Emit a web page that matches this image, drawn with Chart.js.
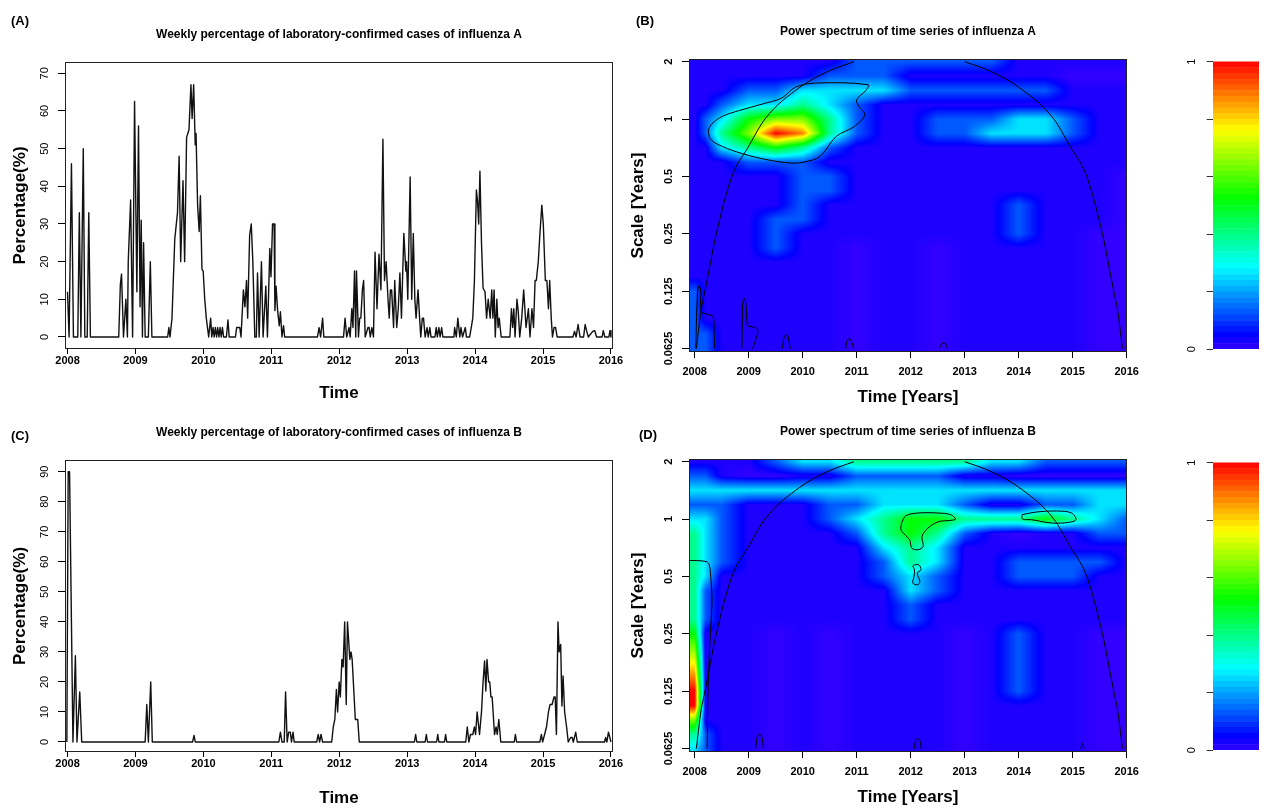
<!DOCTYPE html>
<html>
<head>
<meta charset="utf-8">
<title>Influenza A / B weekly percentage and wavelet power</title>
<script src="https://cdn.jsdelivr.net/npm/chart.js@4.4.1/dist/chart.umd.min.js"></script>
<style>
  body { margin: 0; background: #fff; }
  #page { position: relative; width: 1264px; height: 808px; overflow: hidden; background: #fff; }
  #page canvas { position: absolute; }
</style>
</head>
<body>
<div id="page">
  <canvas id="chartA" width="632" height="410" style="left:0px;top:0px"></canvas>
  <canvas id="chartC" width="632" height="412" style="left:0px;top:398px"></canvas>
  <canvas id="chartB" width="540" height="420" style="left:620px;top:0px"></canvas>
  <canvas id="chartD" width="540" height="420" style="left:620px;top:400px"></canvas>
  <canvas id="barB" width="104" height="404" style="left:1160px;top:0px"></canvas>
  <canvas id="barD" width="104" height="404" style="left:1160px;top:401px"></canvas>
</div>
<script>
Chart.defaults.font.family = '"Liberation Sans", Arial, Helvetica, sans-serif';
Chart.defaults.color = '#000';
var FONT = Chart.defaults.font.family;

// ---------- data ----------
var yearTicks = [2008, 2009, 2010, 2011, 2012, 2013, 2014, 2015, 2016];
var pctTicksA = [0, 10, 20, 30, 40, 50, 60, 70];
var pctTicksB = [0, 10, 20, 30, 40, 50, 60, 70, 80, 90];
var periodTicks = [0.0625, 0.125, 0.25, 0.5, 1, 2];
var colorTicks = [0, 0.2, 0.4, 0.6, 0.8, 1];

// weekly % influenza A  (time = years after 1 Jan 2008)
var fluATime = [
  0, 0.023, 0.058, 0.087, 0.151, 0.174, 0.197, 0.232, 0.255, 0.29, 0.313, 0.337,
  0.754, 0.778, 0.795, 0.824, 0.859, 0.882, 0.894, 0.929, 0.958, 0.987, 1.021, 1.045, 1.068, 1.085, 1.103, 1.12, 1.143, 1.19, 1.219, 1.242,
  1.474, 1.492, 1.509, 1.538, 1.579, 1.619, 1.643, 1.666, 1.7, 1.724, 1.753, 1.788, 1.817, 1.834, 1.857, 1.88, 1.892, 1.915, 1.938, 1.956, 1.979, 1.997, 2.02, 2.043, 2.078,
  2.107, 2.124, 2.142, 2.159, 2.176, 2.194, 2.211, 2.229, 2.246, 2.263, 2.281, 2.298, 2.339, 2.362, 2.38, 2.472, 2.49, 2.536, 2.554,
  2.589, 2.612, 2.635, 2.652, 2.681, 2.705, 2.728, 2.757, 2.78, 2.797, 2.821, 2.855, 2.879, 2.919, 2.943, 2.978, 2.995, 3.018, 3.041, 3.053, 3.07, 3.093, 3.117, 3.134, 3.157, 3.18, 3.197,
  3.68, 3.703, 3.726, 3.755, 3.773,
  4.063, 4.086, 4.11, 4.144, 4.161, 4.185, 4.202, 4.225, 4.243, 4.254, 4.283, 4.301, 4.318, 4.341, 4.359, 4.382, 4.423, 4.44, 4.457, 4.481, 4.504,
  4.527, 4.556, 4.585, 4.614, 4.643, 4.666, 4.69, 4.718, 4.736, 4.753, 4.771, 4.8, 4.817, 4.846, 4.869, 4.893, 4.916, 4.951, 4.98, 4.991, 5.009, 5.044, 5.067, 5.09, 5.113, 5.131, 5.16, 5.183, 5.2,
  5.223, 5.241, 5.264, 5.293, 5.31, 5.334, 5.351, 5.409, 5.427, 5.444, 5.467, 5.485, 5.508, 5.525,
  5.688, 5.699, 5.723, 5.746, 5.775, 5.792, 5.815, 5.856, 5.873, 5.92,
  5.943, 5.966, 5.99, 6.019, 6.036, 6.053, 6.071, 6.094, 6.117, 6.146, 6.169, 6.193, 6.222, 6.245, 6.262, 6.28, 6.297, 6.32, 6.338, 6.355, 6.384,
  6.512, 6.535, 6.553, 6.57, 6.588, 6.616, 6.634, 6.657, 6.686, 6.715, 6.75, 6.785, 6.808, 6.837, 6.86, 6.883, 6.901, 6.93, 6.953, 6.982, 7.004, 7.034, 7.057, 7.08, 7.098, 7.121, 7.139, 7.162, 7.185, 7.208,
  7.44, 7.464, 7.487, 7.516, 7.545, 7.597, 7.62, 7.644, 7.667, 7.731, 7.76, 7.789, 7.87, 7.887, 7.91, 7.969, 7.986, 8.0
];
var fluAPct = [
  12, 0, 46, 0, 0, 33, 0, 50, 0, 0, 33, 0,
  0, 14, 16.7, 0, 10, 0, 20, 36.4, 0, 62.5, 12, 56, 8, 31, 0, 25, 0, 0, 20, 0,
  0, 2.5, 0, 5, 26, 33, 48, 20, 41.5, 20, 53, 55, 67, 58, 67, 51, 54, 35, 28, 37.5, 18, 17.5, 10, 5, 0,
  5, 0, 2.5, 0, 2.5, 0, 2.5, 0, 2.5, 0, 2.5, 0, 0, 4.5, 0, 0, 2.5, 2.5, 0,
  12.5, 8, 15, 5, 27, 30, 20, 0, 0, 17, 0, 20, 0, 13.5, 0, 23.5, 16, 30, 30, 7, 13.5, 7, 3, 6.7, 0, 3, 0,
  0, 2.5, 0, 5, 0,
  0, 5, 0, 2.5, 0, 7.5, 2.5, 17.5, 0, 17.5, 0, 5, 5, 12.5, 15, 0, 2.5, 2.5, 0, 2.5, 0,
  22.5, 7.5, 22, 12.5, 52.5, 15, 20, 10, 5, 12.5, 12.5, 2.5, 15, 2.5, 7.5, 17, 5, 27.5, 17.5, 20, 10, 42.5, 10, 27.5, 10, 5, 12.5, 5, 0,
  5, 5, 0, 2.5, 0, 2.5, 0, 0, 2.5, 0, 2.5, 0, 2.5, 0,
  0, 2.5, 0, 5, 0, 2.5, 0, 2.5, 0, 0,
  2.5, 5, 15, 39, 36, 30, 44, 25, 13, 12, 5, 10, 5, 12.5, 5, 12.5, 0, 10, 2.5, 5, 0,
  0, 7.5, 2.5, 7.5, 0, 10, 7, 0, 5, 12.5, 2.5, 7.5, 0, 7.5, 2.5, 15, 15, 20, 27, 35, 30, 15, 15, 7.5, 15, 5, 0, 2.5, 2.5, 0,
  0, 1.5, 0, 3.3, 0, 0, 3.3, 1.5, 0, 1.5, 1.7, 0, 0, 1.7, 0, 0, 1.7, 0
];

// weekly % influenza B
var fluBTime = [
  -0.01, 0.01, 0.03, 0.08, 0.116, 0.139, 0.18, 0.209,
  1.143, 1.167, 1.19, 1.225, 1.248,
  1.84, 1.863, 1.88,
  3.111, 3.134, 3.157, 3.19, 3.21, 3.233, 3.256, 3.28, 3.297, 3.32, 3.337,
  3.668, 3.691, 3.71, 3.732, 3.755,
  3.889, 3.912, 3.935, 3.958, 3.976, 3.999, 4.016, 4.039, 4.057, 4.08, 4.103, 4.121, 4.156, 4.173, 4.19, 4.237, 4.272, 4.295,
  5.107, 5.125, 5.142, 5.264, 5.282, 5.299, 5.433, 5.45, 5.467, 5.549, 5.566, 5.583,
  5.862, 5.885, 5.908, 5.932, 5.966, 5.99, 6.007, 6.03, 6.065, 6.094, 6.117, 6.14, 6.158, 6.175, 6.199, 6.216, 6.233, 6.251, 6.286, 6.309, 6.326, 6.349, 6.378,
  6.576, 6.593, 6.611,
  6.953, 6.976, 6.994, 7.023, 7.051, 7.08, 7.104, 7.133, 7.162, 7.179, 7.197, 7.22, 7.237, 7.26, 7.278, 7.295, 7.318, 7.347, 7.371, 7.406, 7.429, 7.446, 7.481, 7.504,
  7.905, 7.922, 7.94, 7.963, 8.0
];
var fluBPct = [
  0, 90, 90, 0, 28.7, 0, 16.7, 0,
  0, 12.5, 0, 20, 0,
  0, 2.2, 0,
  0, 3.3, 0, 0, 16.7, 0, 3.3, 3.3, 0, 3.3, 0,
  0, 2.5, 0, 2.5, 0,
  0, 5, 7.5, 17.5, 10, 20, 15, 27.5, 25, 40, 12.5, 40, 27.5, 30, 27.5, 7.5, 7.5, 0,
  0, 2.5, 0, 0, 2.5, 0, 0, 2.5, 0, 0, 2.5, 0,
  0, 5, 0, 2.5, 2.5, 5, 2.5, 10, 2.5, 10, 20, 27, 17, 27.5, 20, 20, 15, 15, 2.5, 5, 2.5, 7.5, 0,
  0, 2.5, 0,
  0, 2.5, 0, 2.5, 5, 10, 12.5, 12.5, 15, 15, 2.5, 40, 30, 32.5, 12, 22, 10, 5, 0, 1.5, 1.5, 0, 3.3, 0,
  0, 1.5, 0, 3.3, 0
];

// wavelet power grid: columns = time, rows = log2(period) from 1 (top) to -4
// each digit is a power level; levelKey gives its place on the 0..1 colour key
var levelKey = [0, 0.02, 0.13, 0.26, 0.39, 0.52, 0.64, 0.76, 0.88, 1];
var specTimes = [2008.0, 2008.2, 2008.5, 2009.0, 2009.5, 2010.0, 2010.5, 2011.0, 2011.5,
                 2012.0, 2012.5, 2013.0, 2013.5, 2014.0, 2014.5, 2015.0, 2015.5, 2016.0];
var periodLog2 = [1, 0.75, 0.5, 0.25, 0, -0.25, -0.5, -0.75, -1, -1.25, -1.5,
                  -1.75, -2, -2.25, -2.5, -2.75, -3, -3.25, -3.5, -3.75, -4];
var powerA = [
  "111111122222211111",
  "111111222111111000",
  "111223333222222111",
  "112334321111111111",
  "123566421122233211",
  "124698421122333211",
  "113454211111111111",
  "111222111111111111",
  "111112211111111110",
  "111112211111111110",
  "111112111111121110",
  "111122111111121110",
  "111121111111121100",
  "111121101101111100",
  "111111101101111100",
  "111111101101111100",
  "211111101101111100",
  "211111101101111100",
  "211111101101111100",
  "221111101101111100",
  "221111101101111100"
];
var powerB = [
  "111123344444332222",
  "221001122221100000",
  "333333333333333333",
  "222111223332112233",
  "332111234554445432",
  "432111124542101122",
  "432111113431111111",
  "432111112431122221",
  "431111112321122211",
  "421111111321111111",
  "421111111211111111",
  "421111111211111111",
  "511101011110121100",
  "611101011110121100",
  "711101011110121100",
  "811101011110121100",
  "911101011110121100",
  "911101011110111100",
  "611101011110111100",
  "421101011110111100",
  "321101011110111100"
];

// cone of influence [year, period]
var coiLeft = [[2008.03, 0.0625], [2008.07, 0.078], [2008.12, 0.1], [2008.19, 0.125], [2008.40, 0.25],
               [2008.69, 0.5], [2009.0, 0.72], [2009.3, 1], [2009.95, 1.47], [2010.47, 1.78], [2010.95, 2]];
var coiRight = [[2013.0, 2], [2013.48, 1.78], [2014.0, 1.47], [2014.65, 1], [2014.95, 0.72], [2015.26, 0.5],
                [2015.55, 0.25], [2015.76, 0.125], [2015.83, 0.1], [2015.88, 0.078], [2015.92, 0.0625]];

// significance contours [year, log2(period)]
var contoursA = [
  [[2008.25,-0.186],[2008.32,-0.08],[2008.51,0.047],[2008.81,0.145],[2009.27,0.267],[2009.61,0.366],[2009.87,0.558],
   [2010.25,0.628],[2011.21,0.599],[2011.17,0.5],[2011.0,0.337],[2011.04,0.221],[2011.15,0.076],[2010.96,-0.128],
   [2010.62,-0.302],[2010.32,-0.651],[2010.02,-0.75],[2009.79,-0.767],[2009.34,-0.709],[2008.89,-0.605],
   [2008.51,-0.477],[2008.29,-0.349],[2008.25,-0.186]],
  [[2008.02,-4],[2008.04,-3.27],[2008.07,-2.91],[2008.11,-2.98],[2008.12,-3.35],[2008.25,-3.41],[2008.34,-3.44],[2008.36,-3.73],[2008.37,-4]],
  [[2008.875,-4],[2008.882,-3.5],[2008.89,-3.18],[2008.92,-3.128],[2008.95,-3.238],[2008.965,-3.5],[2008.988,-3.605],
   [2009.101,-3.628],[2009.169,-3.674],[2009.131,-3.849],[2009.071,-4]],
  [[2009.62,-4],[2009.66,-3.79],[2009.70,-3.76],[2009.73,-3.79],[2009.77,-4]],
  [[2010.80,-4],[2010.82,-3.86],[2010.87,-3.83],[2010.92,-3.92],[2010.94,-4]],
  [[2012.53,-4],[2012.58,-3.91],[2012.64,-3.91],[2012.68,-4]]
];
var contoursB = [
  [[2007.89,-0.72],[2008.21,-0.74],[2008.27,-0.8],[2008.30,-1.06],[2008.32,-1.41],[2008.29,-1.99],[2008.25,-2.86],[2008.23,-4]],
  [[2011.83,-0.07],[2011.91,0.058],[2012.13,0.105],[2012.51,0.105],[2012.74,0.076],[2012.83,0],[2012.74,-0.023],
   [2012.51,-0.047],[2012.32,-0.157],[2012.21,-0.302],[2012.23,-0.477],[2012.13,-0.535],[2012.02,-0.506],
   [2011.98,-0.36],[2011.91,-0.29],[2011.82,-0.186],[2011.83,-0.07]],
  [[2012.07,-0.797],[2012.15,-0.797],[2012.19,-0.884],[2012.12,-0.942],[2012.17,-1.087],[2012.13,-1.145],
   [2012.04,-1.116],[2012.06,-1.0],[2012.07,-0.884],[2012.04,-0.82],[2012.07,-0.797]],
  [[2014.06,0.076],[2014.32,0.122],[2014.70,0.14],[2014.98,0.105],[2015.06,-0.012],[2014.92,-0.058],
   [2014.62,-0.07],[2014.24,-0.012],[2014.07,0.0],[2014.06,0.076]],
  [[2009.13,-4],[2009.16,-3.79],[2009.21,-3.75],[2009.25,-3.82],[2009.27,-4]],
  [[2012.07,-4],[2012.09,-3.86],[2012.13,-3.83],[2012.18,-3.88],[2012.19,-4]],
  [[2015.15,-4],[2015.18,-3.91],[2015.21,-4]]
];

// ---------- helpers ----------
function textW(txt, weight, size) {
  var c = document.createElement('canvas').getContext('2d');
  c.font = weight + ' ' + size + 'px ' + FONT;
  return c.measureText(txt).width;
}
function widest(labels, weight, size) {
  var m = 0;
  labels.forEach(function (l) { m = Math.max(m, textW(String(l), weight, size)); });
  return m;
}
// rainbow used by the power plot: blue (0) -> red (1)
function powerRGB(v) {
  v = Math.max(0, Math.min(1, v));
  var h = 252 * (1 - v);
  function f(n) { var k = (n + h / 30) % 12; return 0.5 - 0.5 * Math.max(-1, Math.min(k - 3, 9 - k, 1)); }
  return [Math.round(f(0) * 255), Math.round(f(8) * 255), Math.round(f(4) * 255)];
}
function fracIndex(arr, v) {
  var n = arr.length, asc = arr[n - 1] > arr[0];
  if (asc ? v <= arr[0] : v >= arr[0]) return 0;
  if (asc ? v >= arr[n - 1] : v <= arr[n - 1]) return n - 1;
  for (var k = 0; k < n - 1; k++) {
    var a = arr[k], b = arr[k + 1];
    if ((v - a) * (v - b) <= 0) return k + (v - a) / (b - a);
  }
  return n - 1;
}

var boxPlugin = {
  id: 'box',
  afterDatasetsDraw: function (chart) {
    var a = chart.chartArea, ctx = chart.ctx;
    ctx.save();
    ctx.strokeStyle = '#222';
    ctx.lineWidth = 1;
    ctx.strokeRect(Math.round(a.left) + 0.5, Math.round(a.top) + 0.5,
                   Math.round(a.right - a.left) - 1, Math.round(a.bottom - a.top) - 1);
    ctx.restore();
  }
};
function letterPlugin(txt, x, y) {
  return {
    id: 'letter',
    afterDraw: function (chart) {
      var ctx = chart.ctx;
      ctx.save();
      ctx.font = 'bold 13px ' + FONT;
      ctx.fillStyle = '#000';
      ctx.textAlign = 'center';
      ctx.textBaseline = 'middle';
      ctx.fillText(txt, x, y);
      ctx.restore();
    }
  };
}
function heatPlugin(rows) {
  var layer = null;
  var grid = rows.map(function (r) { return r.split('').map(function (c) { return levelKey[Number(c)]; }); });
  return {
    id: 'heat',
    beforeDatasetsDraw: function (chart) {
      var a = chart.chartArea, xs = chart.scales.x, ys = chart.scales.y;
      var L = Math.round(a.left), T = Math.round(a.top);
      var w = Math.round(a.right) - L, h = Math.round(a.bottom) - T;
      if (!layer) {
        layer = document.createElement('canvas');
        layer.width = w; layer.height = h;
        var lc = layer.getContext('2d');
        var img = lc.createImageData(w, h);
        var cf = [], rf = [], i, j;
        for (i = 0; i < w; i++) cf.push(fracIndex(specTimes, xs.getValueForPixel(L + i + 0.5)));
        for (j = 0; j < h; j++) rf.push(fracIndex(periodLog2, Math.log2(ys.getValueForPixel(T + j + 0.5))));
        var nc = specTimes.length, nr = periodLog2.length;
        for (j = 0; j < h; j++) {
          var r0 = Math.floor(rf[j]), r1 = Math.min(r0 + 1, nr - 1), fy = rf[j] - r0;
          for (i = 0; i < w; i++) {
            var c0 = Math.floor(cf[i]), c1 = Math.min(c0 + 1, nc - 1), fx = cf[i] - c0;
            var top = grid[r0][c0] * (1 - fx) + grid[r0][c1] * fx;
            var bot = grid[r1][c0] * (1 - fx) + grid[r1][c1] * fx;
            var rgb = powerRGB(top * (1 - fy) + bot * fy);
            var p = (j * w + i) * 4;
            img.data[p] = rgb[0]; img.data[p + 1] = rgb[1]; img.data[p + 2] = rgb[2]; img.data[p + 3] = 255;
          }
        }
        lc.putImageData(img, 0, 0);
      }
      chart.ctx.drawImage(layer, L, T);
    }
  };
}

// ---------- time series panels ----------
function seriesChart(id, o) {
  var yPad = 19.8 - 7 - widest(o.yTicks, 'normal', 11) / 2;
  return new Chart(document.getElementById(id), {
    type: 'line',
    data: {
      datasets: [{
        data: o.time.map(function (t, i) { return { x: 2008 + t, y: o.pct[i] }; }),
        borderColor: '#111', borderWidth: 1.4, pointRadius: 0, tension: 0,
        borderJoinStyle: 'round'
      }]
    },
    options: {
      responsive: false, animation: false, events: [],
      layout: { padding: { left: 0, right: o.padRight, top: 0, bottom: 0 } },
      plugins: {
        legend: { display: false }, tooltip: { enabled: false },
        title: {
          display: true, fullSize: false, text: o.title, color: '#000',
          font: { size: 12, weight: 'bold' }, padding: { top: 27.8, bottom: 19.8 }
        }
      },
      scales: {
        x: {
          type: 'linear', min: 2007.963, max: 2016.03,
          afterBuildTicks: function (s) { s.ticks = yearTicks.map(function (v) { return { value: v }; }); },
          afterFit: function (s) { s.height = o.xAxisH; },
          grid: { drawOnChartArea: false, drawTicks: true, tickLength: 5, color: '#000' },
          border: { display: false },
          ticks: { callback: function (v) { return String(v); }, autoSkip: false, maxRotation: 0,
                   padding: o.xPad, color: '#000', font: { size: 11, weight: 'bold' } },
          title: { display: true, text: 'Time', color: '#000', font: { size: 17, weight: 'bold' },
                   padding: { top: 0, bottom: o.xTitlePad } }
        },
        y: {
          type: 'linear', min: o.yMin, max: o.yMax,
          afterBuildTicks: function (s) { s.ticks = o.yTicks.map(function (v) { return { value: v }; }); },
          afterFit: function (s) { s.width = 65; },
          grid: { drawOnChartArea: false, drawTicks: true, tickLength: 7, color: '#000' },
          border: { display: false },
          ticks: { callback: function (v) { return String(v); }, autoSkip: false, minRotation: 90, maxRotation: 90,
                   crossAlign: 'center', padding: yPad, color: '#000', font: { size: 11 } },
          title: { display: true, text: 'Percentage(%)', color: '#000', font: { size: 17, weight: 'bold' },
                   padding: { top: 9.8, bottom: 0 } }
        }
      }
    },
    plugins: [boxPlugin, letterPlugin(o.letter, o.lx, o.ly)]
  });
}

// ---------- power spectrum panels ----------
function lineSet(points, opts) {
  var ds = {
    data: points, borderColor: '#000', borderWidth: 1, pointRadius: 0,
    fill: false
  };
  for (var k in opts) ds[k] = opts[k];
  return ds;
}
function spectrumChart(id, o) {
  var yPad = 20.2 - 7 - widest(periodTicks, 'bold', 11) / 2;
  var sets = [
    lineSet(coiLeft.map(function (p) { return { x: p[0], y: p[1] }; }), { cubicInterpolationMode: 'monotone' }),
    lineSet(coiRight.map(function (p) { return { x: p[0], y: p[1] }; }), { cubicInterpolationMode: 'monotone' })
  ];
  o.contours.forEach(function (c) {
    sets.push(lineSet(c.map(function (p) { return { x: p[0], y: Math.pow(2, p[1]) }; }), { tension: 0.35 }));
  });
  return new Chart(document.getElementById(id), {
    type: 'line',
    data: { datasets: sets },
    options: {
      responsive: false, animation: false, events: [],
      layout: { padding: { left: 0, right: 33, top: 0, bottom: 0 } },
      plugins: {
        legend: { display: false }, tooltip: { enabled: false },
        title: {
          display: true, fullSize: false, text: o.title, color: '#000',
          font: { size: 12, weight: 'bold' }, padding: { top: 24.8, bottom: 19.8 }
        }
      },
      scales: {
        x: {
          type: 'linear', min: 2007.894, max: 2016.005,
          afterBuildTicks: function (s) { s.ticks = yearTicks.map(function (v) { return { value: v }; }); },
          afterFit: function (s) { s.height = 68; },
          grid: { drawOnChartArea: false, drawTicks: true, tickLength: 6, color: '#000' },
          border: { display: false },
          ticks: { callback: function (v) { return String(v); }, autoSkip: false, maxRotation: 0,
                   padding: 7.4, color: '#000', font: { size: 11, weight: 'bold' } },
          title: { display: true, text: 'Time [Years]', color: '#000', font: { size: 17, weight: 'bold' },
                   padding: { top: 0, bottom: 12.8 } }
        },
        y: {
          type: 'logarithmic', min: 0.05995, max: 2.066,
          afterBuildTicks: function (s) { s.ticks = periodTicks.map(function (v) { return { value: v }; }); },
          afterFit: function (s) { s.width = 69; },
          grid: { drawOnChartArea: false, drawTicks: true, tickLength: 7, color: '#000' },
          border: { display: false },
          ticks: { callback: function (v) { return String(v); }, autoSkip: false, minRotation: 90, maxRotation: 90,
                   crossAlign: 'center', padding: yPad, color: '#000', font: { size: 11, weight: 'bold' } },
          title: { display: true, text: 'Scale [Years]', color: '#000', font: { size: 17, weight: 'bold' },
                   padding: { top: 7.8, bottom: 0 } }
        }
      }
    },
    plugins: [heatPlugin(o.power), boxPlugin, letterPlugin(o.letter, o.lx, o.ly)]
  });
}

// ---------- colour key ----------
function colourKey(id) {
  var bands = 50, sets = [];
  for (var k = 0; k < bands; k++) {
    var c = powerRGB((k + 0.5) / bands);
    sets.push({ data: [1 / bands], backgroundColor: 'rgb(' + c.join(',') + ')', borderWidth: 0,
                barPercentage: 1, categoryPercentage: 1, stack: 'key' });
  }
  var yPad = 21.3 - 6.3 - textW('1', 'normal', 11) / 2;
  return new Chart(document.getElementById(id), {
    type: 'bar',
    data: { labels: [''], datasets: sets },
    options: {
      responsive: false, animation: false, events: [],
      layout: { padding: { left: 0, right: 5, top: 59.3, bottom: 52.3 } },
      plugins: { legend: { display: false }, tooltip: { enabled: false } },
      scales: {
        x: { display: false, stacked: true },
        y: {
          stacked: true, min: -0.0084, max: 1.0084,
          afterBuildTicks: function (s) { s.ticks = colorTicks.map(function (v) { return { value: v }; }); },
          afterFit: function (s) { s.width = 53; },
          grid: { drawOnChartArea: false, drawTicks: true, tickLength: 6.3, color: '#333' },
          border: { display: false },
          ticks: { callback: function (v) { return (v === 0 || v === 1) ? String(v) : ''; }, autoSkip: false,
                   minRotation: 90, maxRotation: 90, crossAlign: 'center', padding: yPad,
                   color: '#000', font: { size: 11 } }
        }
      }
    }
  });
}

seriesChart('chartA', {
  time: fluATime, pct: fluAPct, yTicks: pctTicksA, yMin: -3.19, yMax: 73.0,
  title: 'Weekly percentage of laboratory-confirmed cases of influenza A',
  padRight: 19, xAxisH: 61, xPad: 0, xTitlePad: 6, letter: '(A)', lx: 20, ly: 21
});
seriesChart('chartC', {
  time: fluBTime, pct: fluBPct, yTicks: pctTicksB, yMin: -3.33, yMax: 93.9,
  title: 'Weekly percentage of laboratory-confirmed cases of influenza B',
  padRight: 19, xAxisH: 58, xPad: 0.4, xTitlePad: 1.8, letter: '(C)', lx: 20, ly: 38
});
spectrumChart('chartB', {
  power: powerA, contours: contoursA, title: 'Power spectrum of time series of influenza A',
  letter: '(B)', lx: 25, ly: 21
});
spectrumChart('chartD', {
  power: powerB, contours: contoursB, title: 'Power spectrum of time series of influenza B',
  letter: '(D)', lx: 28, ly: 35
});
colourKey('barB');
colourKey('barD');
</script>
</body>
</html>
